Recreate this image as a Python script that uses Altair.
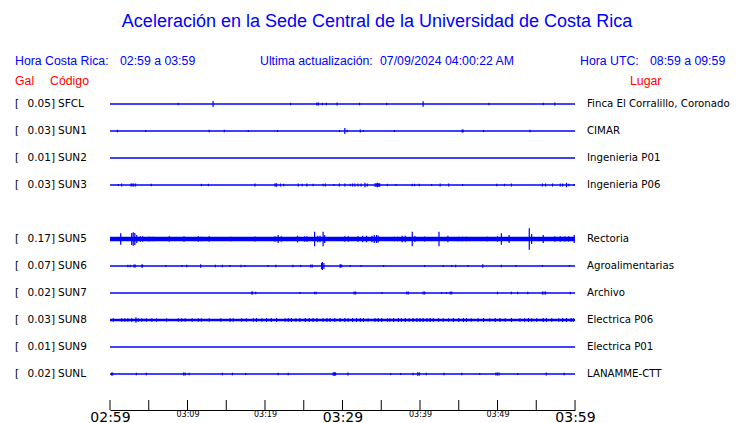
import altair as alt
import pandas as pd

# ---------------- data ----------------
codes = ["SFCL", "SUN1", "SUN2", "SUN3", "SUN5", "SUN6", "SUN7", "SUN8", "SUN9", "SUNL"]
gals = ["0.05", "0.03", "0.01", "0.03", "0.17", "0.07", "0.02", "0.03", "0.01", "0.02"]
places = ["Finca El Corralillo, Coronado", "CIMAR", "Ingenieria P01", "Ingenieria P06",
          "Rectoria", "Agroalimentarias", "Archivo", "Electrica P06", "Electrica P01", "LANAMME-CTT"]
slots = [0, 1, 2, 3, 5, 6, 7, 8, 9, 10]          # SUN4 slot is empty
noise = [1.5, 1.5, 1.5, 1.5, 4.5, 1.5, 1.5, 2.5, 1.5, 1.5]   # baseline thickness (px)

# spikes: minutes after 02:59 and half deflection (px)
sfcl_t = [8.8, 13.3, 23.3, 26.7, 26.9, 27.4, 27.9, 29.3, 32.2, 35.7, 40.4, 48.9, 55.9, 57.4]
sfcl_a = [1.2, 3.0, 1.2, 1.5, 1.5, 1.3, 1.3, 1.5, 1.3, 1.3, 2.7, 1.3, 1.3, 1.5]
sun1_t = [0.95, 4.6, 12.8, 14.75, 17.85, 21.6, 29.6, 30.3, 30.6, 32.3, 32.7, 36.7, 45.45, 45.55, 48.2, 54.2]
sun1_a = [1.3, 1.0, 1.3, 1.3, 1.0, 1.0, 1.0, 3.0, 1.3, 1.5, 1.0, 1.0, 1.5, 1.5, 1.0, 1.3]
sun2_t = []
sun2_a = []
sun3_t = [1.08, 1.5, 2.7, 2.85, 3.05, 3.3, 5.33, 11.8, 12.7, 18.7, 21.3, 21.5, 22.0, 22.4, 24.3, 24.8,
          25.4, 26.2, 27.5, 27.8, 28.9, 29.6, 30.3, 31.0, 31.3, 31.6, 32.0, 32.4, 32.9, 33.2, 34.2,
          34.35, 34.5, 34.65, 34.8, 35.8, 36.9, 39.0, 39.3, 39.9, 41.5, 42.6, 43.7, 45.5, 49.9, 50.9,
          51.8, 55.8, 56.2, 57.1, 58.1, 58.4, 58.9, 59.2, 59.9]
sun3_a = [1.0, 1.5, 1.5, 1.5, 1.5, 1.5, 1.2, 1.2, 1.2, 1.5, 1.7, 1.7, 1.5, 1.2, 1.5, 1.2,
          1.5, 1.2, 1.2, 1.5, 1.0, 1.5, 1.5, 1.2, 1.5, 1.5, 1.5, 1.5, 2.3, 1.5, 1.7,
          1.7, 2.3, 1.7, 1.7, 1.2, 1.0, 1.2, 1.2, 1.2, 1.0, 1.5, 1.5, 1.0, 1.2, 1.2,
          1.5, 1.5, 1.5, 1.5, 1.5, 1.5, 2.3, 1.2, 1.0]
sun5_t = [0.77, 1.38, 2.8, 3.0, 3.2, 3.45, 3.9, 4.2, 4.95, 5.15, 5.6, 7.65, 9.55, 11.4, 11.75, 12.8,
          15.6, 18.7, 21.3, 21.7, 22.1, 24.2, 25.1, 25.4, 26.4, 26.8, 27.1, 27.5, 27.7, 29.7, 30.3,
          30.75, 32.0, 32.6, 33.1, 33.8, 34.1, 34.4, 34.6, 35.7, 36.7, 37.1, 37.7, 38.1, 39.0, 39.35,
          40.6, 42.45, 43.6, 45.0, 45.5, 46.0, 47.0, 48.7, 50.0, 50.5, 51.5, 54.1, 54.4, 55.9, 57.4,
          58.1, 58.7, 59.2, 59.9]
sun5_a = [2.0, 5.7, 6.0, 6.7, 6.0, 4.0, 2.7, 2.7, 2.3, 2.3, 2.3, 2.7, 2.7, 2.7, 2.3, 2.7,
          2.3, 2.5, 2.7, 4.0, 2.7, 3.3, 2.7, 2.7, 7.3, 3.3, 3.3, 7.3, 4.0, 2.0, 2.7,
          2.7, 2.7, 3.3, 3.3, 3.3, 4.0, 4.0, 3.5, 2.0, 2.3, 2.3, 3.3, 3.3, 7.3, 3.0,
          2.5, 7.3, 3.3, 2.3, 2.3, 2.3, 1.5, 2.3, 2.7, 5.7, 4.0, 10.7, 5.0, 4.0, 2.7,
          2.7, 2.7, 2.7, 4.0]
sun6_t = [2.3, 2.6, 3.1, 3.25, 4.1, 4.2, 7.2, 9.3, 9.9, 11.7, 13.6, 14.5, 15.5, 16.9, 17.4, 20.4,
          21.4, 23.6, 24.6, 25.9, 26.1, 27.3, 27.4, 27.6, 29.7, 29.9, 31.0, 32.4, 35.3, 40.6, 43.0,
          44.1, 44.6, 46.2, 48.1, 50.5, 52.4, 55.8, 59.3]
sun6_a = [1.3, 1.3, 1.5, 1.5, 1.5, 1.5, 1.0, 1.0, 1.3, 1.7, 1.3, 1.3, 1.0, 1.3, 1.0, 1.0,
          1.3, 1.3, 1.0, 1.5, 1.5, 3.0, 4.0, 3.0, 2.0, 1.5, 1.0, 1.0, 1.0, 1.0, 1.0,
          1.0, 1.3, 1.0, 1.7, 1.3, 1.0, 1.0, 1.0]
sun7_t = [18.3, 18.4, 18.8, 24.5, 26.4, 26.6, 31.5, 31.7, 35.1, 38.3, 38.5, 40.4, 40.6, 42.8, 43.4,
          43.9, 44.1, 50.0, 51.8, 52.6, 53.9, 55.8, 56.0, 56.2, 59.4]
sun7_a = [1.5, 1.5, 1.3, 1.0, 1.2, 1.2, 1.5, 1.5, 1.0, 1.5, 1.5, 1.5, 1.5, 1.0, 1.0,
          1.5, 1.5, 1.3, 1.3, 1.3, 1.3, 1.5, 1.5, 1.5, 1.3]
sun8_t = [0.43, 1.5, 1.9, 2.3, 2.8, 3.35, 3.65, 4.1, 4.7, 5.4, 6.0, 7.3, 8.8, 9.25, 9.7, 10.6, 11.4,
          11.8, 12.8, 14.3, 15.5, 15.9, 17.0, 17.6, 18.5, 18.9, 19.6, 20.2, 20.8, 21.5, 22.6, 23.0,
          23.4, 24.0, 24.5, 25.2, 25.7, 26.2, 26.7, 27.5, 28.0, 28.4, 29.0, 29.7, 30.3, 30.75, 31.3,
          31.8, 32.3, 32.7, 33.3, 34.2, 34.6, 35.05, 35.8, 36.1, 36.6, 37.2, 37.6, 38.1, 38.6, 39.1,
          39.6, 40.0, 40.4, 40.9, 41.3, 41.7, 42.4, 43.0, 43.7, 44.3, 45.0, 45.6, 46.0, 46.6, 47.5,
          48.2, 49.0, 49.7, 50.3, 51.0, 51.8, 52.9, 53.5, 54.0, 54.4, 55.05, 55.9, 56.3, 57.0, 57.9,
          58.4, 58.9, 59.5, 59.8]
sun8_a = [1.7, 1.7, 1.7, 1.7, 1.7, 2.7, 1.7, 1.7, 1.7, 1.7, 1.7, 1.7, 1.7, 1.7, 1.7, 1.7, 1.7,
          1.7, 1.7, 1.7, 1.7, 1.7, 1.7, 1.7, 1.7, 2.0, 1.7, 2.0, 2.0, 2.0, 1.7, 2.0,
          2.0, 1.7, 2.0, 2.0, 2.0, 2.0, 2.0, 1.7, 2.0, 2.0, 2.0, 2.0, 2.0, 1.7, 2.0,
          2.0, 2.0, 2.0, 1.7, 2.0, 2.0, 2.0, 1.7, 1.7, 2.0, 2.0, 1.7, 2.0, 1.7, 2.0,
          2.0, 2.0, 2.0, 2.0, 2.0, 1.7, 1.7, 1.7, 1.7, 2.0, 2.0, 2.0, 2.0, 1.7, 1.7,
          2.0, 1.7, 2.0, 2.0, 1.7, 2.0, 1.7, 1.7, 2.0, 1.7, 1.7, 2.0, 2.0, 1.7, 1.7,
          2.0, 2.0, 2.0, 1.7]
sun9_t = []
sun9_a = []
sunl_t = [0.2, 0.35, 3.4, 4.7, 9.5, 9.7, 10.2, 14.5, 15.8, 17.5, 21.7, 23.0, 28.8, 28.95, 29.1, 30.7,
          36.2, 37.5, 39.1, 39.7, 39.9, 40.8, 43.1, 45.4, 47.7, 49.8, 50.0, 50.2, 52.6, 56.3, 58.6]
sunl_a = [1.5, 1.5, 1.3, 1.3, 1.5, 1.5, 1.2, 1.3, 1.3, 1.0, 1.3, 1.3, 1.7, 1.7, 1.7, 1.5,
          1.0, 1.0, 1.3, 1.7, 1.7, 1.3, 1.3, 1.3, 1.0, 1.5, 1.5, 1.5, 1.0, 1.5, 1.3]

spike_times = [sfcl_t, sun1_t, sun2_t, sun3_t, sun5_t, sun6_t, sun7_t, sun8_t, sun9_t, sunl_t]
spike_amps = [sfcl_a, sun1_a, sun2_a, sun3_a, sun5_a, sun6_a, sun7_a, sun8_a, sun9_a, sunl_a]

tick_minutes = [0, 5, 10, 15, 20, 25, 30, 35, 40, 45, 50, 55, 60]
label_minutes = [0, 10, 20, 30, 40, 50, 60]
tick_labels = ["02:59", "03:09", "03:19", "03:29", "03:39", "03:49", "03:59"]

title_text = "Aceleración en la Sede Central de la Universidad de Costa Rica"
hdr_left = ["Hora Costa Rica:", "02:59 a 03:59"]
hdr_mid = ["Ultima actualización:", "07/09/2024 04:00:22 AM"]
hdr_right = ["Hora UTC:", "08:59 a 09:59"]
col_heads = ["Gal", "Código", "Lugar"]

# ---------------- tables ----------------
ROW_PX = 27.0
stations = pd.DataFrame({"code": codes, "gal": [g + "]" for g in gals], "place": places,
                         "row": slots, "bw": noise, "t0": 0, "t1": 60})
rec = []
for r, ts, amps in zip(slots, spike_times, spike_amps):
    for t, a in zip(ts, amps):
        rec.append({"row": r, "t": t, "lo": r - a / ROW_PX, "hi": r + a / ROW_PX})
spikes = pd.DataFrame(rec)

BLUE = "#0000ff"
RED = "#ff0000"
HFONT = "Liberation Sans"
SFONT = "DejaVu Sans"

H = 322
TOP_GAP = 16
xs = alt.Scale(domain=[0, 60], nice=False, zero=False)
ys = alt.Scale(domain=[-TOP_GAP / ROW_PX, (H - TOP_GAP) / ROW_PX], nice=False, zero=False, reverse=True)

label_expr = "[" + ",".join("'" + s + "'" for s in tick_labels) + "][round(datum.value/10)]"

base = alt.Chart(stations).mark_rule(color=BLUE).encode(
    x=alt.X("t0:Q", scale=xs, axis=alt.Axis(
        values=label_minutes, labelExpr=label_expr, ticks=False, grid=False, title="",
        domainColor="black", domainWidth=1, labelColor="black", labelFont=SFONT,
        labelFontSize={"condition": {"test": "datum.value % 30 === 0", "value": 14}, "value": 8},
        labelBaseline="top", labelPadding=0, labelFlush=False, labelOverlap=False, labelBound=False)),
    x2="t1:Q",
    y=alt.Y("row:Q", scale=ys, axis=None),
    strokeWidth=alt.StrokeWidth("bw:Q", scale=None),
)

spk = alt.Chart(spikes).mark_rule(color=BLUE, strokeWidth=1.2).encode(
    x=alt.X("t:Q", scale=xs), y=alt.Y("lo:Q", scale=ys), y2="hi:Q")

ticks = alt.Chart(pd.DataFrame({"m": tick_minutes})).mark_rule(color="black", strokeWidth=1).encode(
    x=alt.X("m:Q", scale=xs), y=alt.value(H - 10), y2=alt.value(H))

def st_text(field, xpos, align, size=10.5):
    return alt.Chart(stations).mark_text(font=SFONT, fontSize=size, color="black", align=align,
                                         baseline="middle").encode(
        x=alt.value(xpos), y=alt.Y("row:Q", scale=ys), text=f"{field}:N")

bracket = alt.Chart(stations).mark_text(font=SFONT, fontSize=10.5, color="black", align="left",
                                        baseline="middle", text="[").encode(
    x=alt.value(-95), y=alt.Y("row:Q", scale=ys))
gal_t = st_text("gal", -55, "right")
code_t = st_text("code", -52, "left")
place_t = st_text("place", 477, "left", 10.2)

def fixed_text(txt, xpos, ypos, color, size, align="left", font=HFONT):
    return alt.Chart(pd.DataFrame({"s": [txt]})).mark_text(
        font=font, fontSize=size, color=color, align=align, baseline="middle").encode(
        x=alt.value(xpos), y=alt.value(ypos), text="s:N")

headers = [
    fixed_text(title_text, 267, -66, BLUE, 18, "center"),
    fixed_text(hdr_left[0], -95, -27.5, BLUE, 12.3),
    fixed_text(hdr_left[1], 10, -27.5, BLUE, 12.3),
    fixed_text(hdr_mid[0], 150, -27.5, BLUE, 12.3),
    fixed_text(hdr_mid[1], 270, -27.5, BLUE, 12.3),
    fixed_text(hdr_right[0], 470, -27.5, BLUE, 12.3),
    fixed_text(hdr_right[1], 540, -27.5, BLUE, 12.3),
    fixed_text(col_heads[0], -95, -7, RED, 12.3),
    fixed_text(col_heads[1], -60, -7, RED, 12.3),
    fixed_text(col_heads[2], 520, -7, RED, 12.3),
]

chart = alt.layer(base, spk, ticks, bracket, gal_t, code_t, place_t, *headers).properties(
    width=465, height=H,
    autosize=alt.AutoSizeParams(type="none"),
    padding={"left": 102, "top": 80, "right": 157, "bottom": 13},
    background="white",
).configure_view(strokeWidth=0)

chart.save("out.html", embed_options={"renderer": "svg", "actions": False})
